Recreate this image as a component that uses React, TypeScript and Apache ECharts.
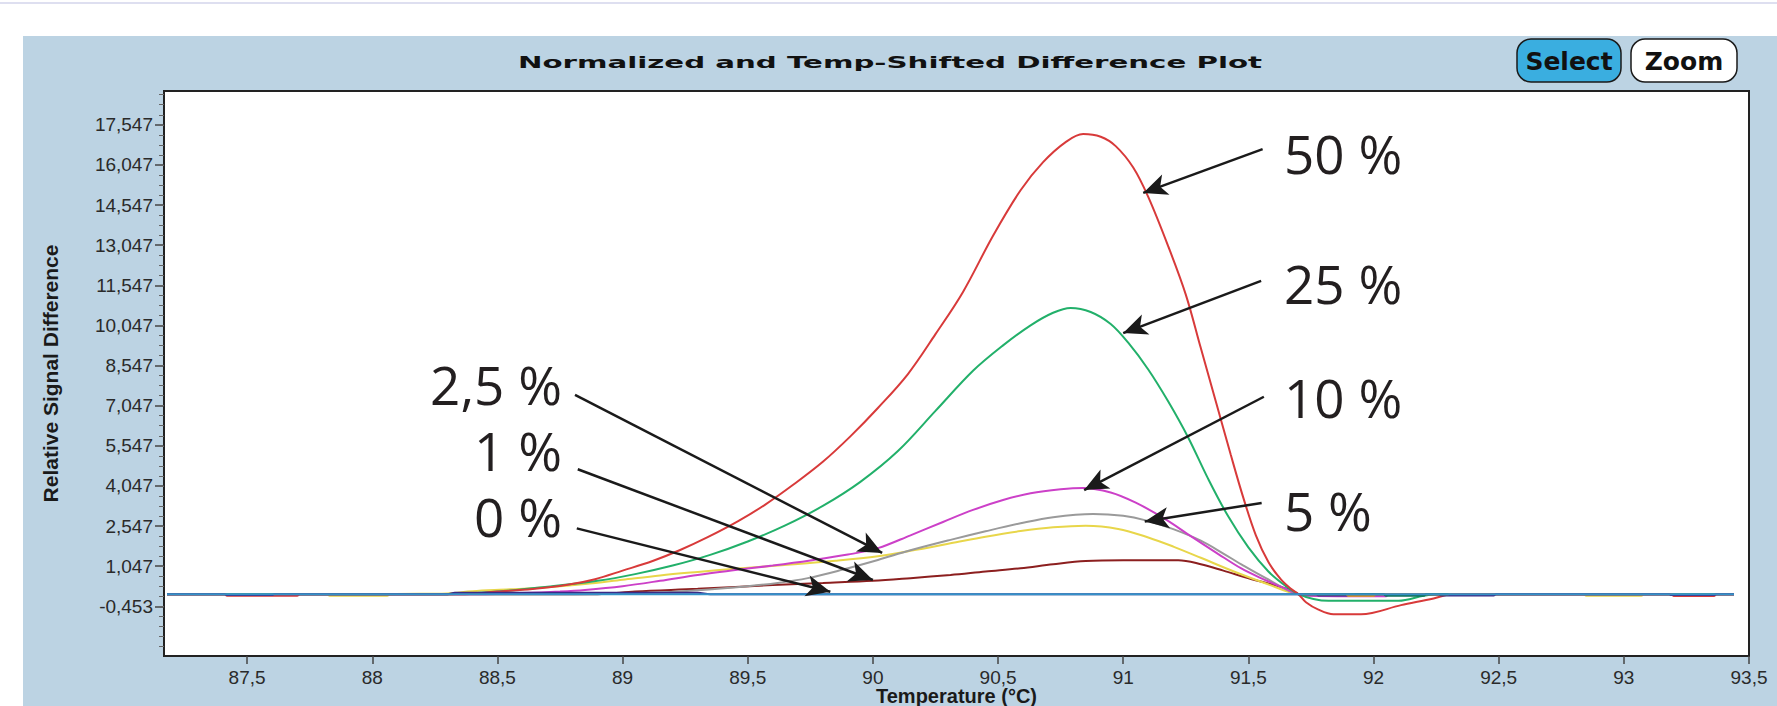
import React, { useEffect, useRef } from 'react';
import * as echarts from 'echarts';

// ---- axis ticks ----
const xTickValues = [87.5, 88, 88.5, 89, 89.5, 90, 90.5, 91, 91.5, 92, 92.5, 93, 93.5];
const yTickValues = [-0.453, 1.047, 2.547, 4.047, 5.547, 7.047, 8.547, 10.047, 11.547, 13.047, 14.547, 16.047, 17.547];

// ---- series: [temperature °C, relative signal difference] ----
const conc0: [number, number][] = [[87.18, 0], [93.44, 0]];
const conc1: [number, number][] = [
  [87.18, 0], [88.9, 0], [89.05, 0.1], [89.3, 0.2], [89.6, 0.34], [89.8, 0.42], [90.0, 0.5], [90.15, 0.6],
  [90.31, 0.72], [90.45, 0.85], [90.59, 0.97], [90.72, 1.12], [90.85, 1.24], [91.0, 1.27], [91.22, 1.27],
  [91.31, 1.12], [91.4, 0.88], [91.51, 0.57], [91.6, 0.35], [91.67, 0.14], [91.7, 0], [91.8, -0.03], [92.0, 0], [93.44, 0],
];
const conc2_5: [number, number][] = [
  [87.18, 0], [87.82, 0], [87.83, -0.06], [88.06, -0.06], [88.07, 0], [88.3, 0.03], [88.4, 0.11], [88.55, 0.18],
  [88.7, 0.26], [88.85, 0.38], [89.0, 0.54], [89.15, 0.7], [89.3, 0.83], [89.45, 0.95], [89.66, 1.1], [89.85, 1.25],
  [90.02, 1.42], [90.15, 1.62], [90.31, 1.9], [90.45, 2.15], [90.59, 2.36], [90.72, 2.5], [90.85, 2.56], [90.98, 2.44],
  [91.1, 2.12], [91.2, 1.78], [91.31, 1.36], [91.45, 0.82], [91.57, 0.4], [91.7, 0], [91.8, -0.04], [91.95, -0.04],
  [92.0, 0], [92.84, 0], [92.85, -0.06], [93.07, -0.06], [93.08, 0], [93.44, 0],
];
const conc5: [number, number][] = [
  [87.18, 0], [88.8, 0], [89.1, 0.05], [89.3, 0.15], [89.5, 0.3], [89.62, 0.42], [89.74, 0.6], [89.88, 0.92],
  [90.02, 1.28], [90.15, 1.64], [90.31, 2.03], [90.45, 2.35], [90.59, 2.65], [90.72, 2.88], [90.88, 3.0], [91.0, 2.93],
  [91.09, 2.76], [91.2, 2.43], [91.31, 2.0], [91.4, 1.52], [91.48, 1.07], [91.57, 0.6], [91.7, 0], [91.78, -0.05],
  [91.9, -0.05], [91.95, 0], [93.44, 0],
];
const conc10: [number, number][] = [
  [87.18, 0], [88.45, 0], [88.6, 0.04], [88.75, 0.1], [88.85, 0.16], [89.0, 0.3], [89.15, 0.5], [89.3, 0.72],
  [89.45, 0.9], [89.6, 1.07], [89.75, 1.26], [89.9, 1.48], [90.02, 1.72], [90.15, 2.2], [90.28, 2.7], [90.4, 3.15],
  [90.52, 3.52], [90.63, 3.77], [90.75, 3.92], [90.84, 3.97], [90.95, 3.8], [91.05, 3.42], [91.16, 2.85], [91.27, 2.17],
  [91.38, 1.5], [91.47, 0.97], [91.55, 0.6], [91.63, 0.28], [91.7, 0], [91.75, -0.06], [92.0, -0.08], [92.05, -0.08],
  [92.06, 0], [93.44, 0],
];
const conc25: [number, number][] = [
  [87.18, 0], [88.3, 0], [88.5, 0.1], [88.7, 0.28], [88.9, 0.5], [89.05, 0.75], [89.2, 1.07], [89.35, 1.47],
  [89.5, 1.97], [89.65, 2.57], [89.8, 3.3], [89.95, 4.2], [90.1, 5.35], [90.25, 6.85], [90.4, 8.35], [90.52, 9.3],
  [90.63, 10.05], [90.72, 10.52], [90.79, 10.7], [90.87, 10.55], [90.95, 10.1], [91.02, 9.4], [91.1, 8.4], [91.18, 7.2],
  [91.26, 5.85], [91.34, 4.3], [91.42, 2.9], [91.5, 1.75], [91.58, 0.85], [91.65, 0.3], [91.7, 0], [91.76, -0.18],
  [91.82, -0.25], [92.1, -0.25], [92.2, -0.06], [92.25, 0], [93.44, 0],
];
const conc50: [number, number][] = [
  [87.18, 0], [87.41, 0], [87.42, -0.06], [87.7, -0.06], [87.71, 0], [88.35, 0], [88.5, 0.1], [88.64, 0.19],
  [88.78, 0.35], [88.89, 0.56], [89.0, 0.88], [89.12, 1.24], [89.23, 1.65], [89.34, 2.13], [89.46, 2.72], [89.57, 3.35],
  [89.68, 4.08], [89.8, 4.95], [89.91, 5.9], [90.02, 6.96], [90.14, 8.23], [90.25, 9.72], [90.36, 11.3], [90.48, 13.4],
  [90.59, 15.1], [90.68, 16.15], [90.77, 16.9], [90.84, 17.2], [90.91, 17.1], [90.97, 16.75], [91.04, 15.95],
  [91.1, 14.85], [91.18, 13.0], [91.25, 11.2], [91.31, 9.2], [91.37, 7.2], [91.43, 5.2], [91.48, 3.6],
  [91.53, 2.2], [91.58, 1.2], [91.63, 0.55], [91.67, 0.2], [91.7, 0], [91.73, -0.3], [91.78, -0.58], [91.84, -0.75],
  [91.95, -0.75], [92.11, -0.41], [92.24, -0.16], [92.29, -0.03], [92.32, 0], [93.19, 0], [93.2, -0.07],
  [93.36, -0.07], [93.37, 0], [93.44, 0],
];
const traceNavy: [number, number][] = [
  [87.18, 0], [87.41, 0], [87.42, -0.03], [87.6, -0.03], [87.61, 0], [88.3, 0], [88.33, 0.05], [89.3, 0.05],
  [89.35, 0], [91.77, 0], [91.78, -0.05], [91.92, -0.05], [91.93, 0], [92.26, 0], [92.27, -0.05], [92.48, -0.05],
  [92.49, 0], [93.18, 0], [93.19, -0.03], [93.36, -0.03], [93.37, 0], [93.44, 0],
];
const traceOrange: [number, number][] = [[91.72, 0], [91.89, 0], [91.9, -0.07], [92.0, -0.07], [92.01, 0], [92.3, 0]];
const traceDarkGreen: [number, number][] = [[91.72, 0], [92.04, 0], [92.05, -0.06], [92.2, -0.06], [92.21, 0], [92.3, 0]];

// ---- annotations ----
const labels = ['0 %', '1 %', '2,5 %', '5 %', '10 %', '25 %', '50 %'];
const arrowFrom: [number, number][] = [
  [88.817, 2.46], [88.821, 4.67], [88.81, 7.45], [91.553, 3.41], [91.562, 7.38], [91.551, 11.71], [91.557, 16.64],
];
const arrowTo: [number, number][] = [
  [89.83, 0.09], [90.0, 0.53], [90.037, 1.54], [91.086, 2.72], [90.844, 3.89], [91.0, 9.76], [91.08, 15.0],
];

const lineSeries = (name: string, data: [number, number][], color: string, extra: any = {}) => ({
  type: 'line',
  name,
  data,
  showSymbol: false,
  symbol: 'none',
  smooth: 0.35,
  lineStyle: { color, width: 2 },
  itemStyle: { color },
  silent: true,
  ...extra,
});

export default function App() {
  const ref = useRef<HTMLDivElement>(null);
  useEffect(() => {
    if (!ref.current) return;
    const chart = echarts.init(ref.current, undefined, { renderer: 'svg' });

    const minor: number[] = [];
    const step = 1.5 / 4;
    for (let v = yTickValues[0] - 1.5; v < 18.8; v += step) {
      if (v > -2.31) minor.push(Math.round(v * 1000) / 1000);
    }

    const labelFont = { fontFamily: 'Open Sans', fontSize: 53, lineHeight: 46, fill: '#231f20' };
    const leftLabelPos = [
      { text: labels[2], y: 384 },
      { text: labels[1], y: 450 },
      { text: labels[0], y: 516 },
    ];
    const rightLabelPos = [
      { text: labels[6], y: 153 },
      { text: labels[5], y: 283 },
      { text: labels[4], y: 397 },
      { text: labels[3], y: 510 },
    ];

    const graphic: any[] = [
      { type: 'rect', z: -10, shape: { x: 0, y: 2, width: 1777, height: 2 }, style: { fill: '#dedff0' } },
      { type: 'rect', z: -10, shape: { x: 23, y: 36, width: 1754, height: 670 }, style: { fill: '#bcd3e3' } },
      {
        type: 'text', x: 890, y: 63, scaleX: 1.83, z: 5,
        style: {
          text: 'Normalized and Temp-Shifted Difference Plot', fontFamily: 'DejaVu Sans', fontWeight: 'bold',
          fontSize: 16, fill: '#111', textAlign: 'center', textVerticalAlign: 'middle', align: 'center', verticalAlign: 'middle',
        },
      },
      { type: 'rect', z: 5, shape: { x: 1517, y: 39, width: 104, height: 43, r: 14 }, style: { fill: '#3aaee0', stroke: '#1a1a1a', lineWidth: 1.5 } },
      {
        type: 'text', z: 6, x: 1569, y: 61,
        style: { text: 'Select', fontFamily: 'DejaVu Sans', fontWeight: 'bold', fontSize: 25, fill: '#111', textAlign: 'center', textVerticalAlign: 'middle', align: 'center', verticalAlign: 'middle' },
      },
      { type: 'rect', z: 5, shape: { x: 1631, y: 39, width: 106, height: 43, r: 14 }, style: { fill: '#ffffff', stroke: '#1a1a1a', lineWidth: 1.5 } },
      {
        type: 'text', z: 6, x: 1684, y: 61,
        style: { text: 'Zoom', fontFamily: 'DejaVu Sans', fontWeight: 'bold', fontSize: 25, fill: '#111', textAlign: 'center', textVerticalAlign: 'middle', align: 'center', verticalAlign: 'middle' },
      },
      ...leftLabelPos.map((l) => ({
        type: 'text', z: 20, x: 562, y: l.y,
        style: { ...labelFont, text: l.text, textAlign: 'right', textVerticalAlign: 'middle', align: 'right', verticalAlign: 'middle' },
      })),
      ...rightLabelPos.map((l) => ({
        type: 'text', z: 20, x: 1284, y: l.y,
        style: { ...labelFont, text: l.text, textAlign: 'left', textVerticalAlign: 'middle', align: 'left', verticalAlign: 'middle' },
      })),
    ];

    const arrows = arrowFrom.map((f, i) => [
      { coord: f, symbol: 'none' },
      { coord: arrowTo[i], symbol: 'arrow', symbolSize: [16, 24] },
    ]);

    const tickLabelStyle = { fontFamily: 'Liberation Sans', fontSize: 19, color: '#2a2a2a' };

    chart.setOption({
      animation: false,
      backgroundColor: '#ffffff',
      graphic,
      grid: {
        left: 164, top: 91, right: 28, bottom: 50,
        show: true, backgroundColor: '#ffffff', borderColor: '#222', borderWidth: 2,
        containLabel: false, outerBoundsMode: 'none',
      },
      xAxis: {
        type: 'value', min: 87.168, max: 93.5,
        name: 'Temperature (°C)', nameLocation: 'middle', nameGap: 30, nameMoveOverlap: false,
        nameTextStyle: { fontFamily: 'Liberation Sans', fontWeight: 'bold', fontSize: 20, lineHeight: 20, color: '#1a1a1a' },
        axisLine: { show: true, onZero: false, lineStyle: { color: '#222', width: 2 } },
        axisTick: { show: true, length: 8, customValues: xTickValues, lineStyle: { color: '#444', width: 1.5 } },
        axisLabel: {
          ...tickLabelStyle, margin: 12, customValues: xTickValues,
          formatter: (v: number) => String(v).replace('.', ','),
        },
        splitLine: { show: false },
      },
      yAxis: [
        {
          type: 'value', min: -2.311, max: 18.81, position: 'left',
          name: 'Relative Signal Difference', nameLocation: 'middle', nameGap: 103, nameMoveOverlap: false,
          nameTextStyle: { fontFamily: 'Liberation Sans', fontWeight: 'bold', fontSize: 21, color: '#1a1a1a' },
          axisLine: { show: true, onZero: false, lineStyle: { color: '#222', width: 2 } },
          axisTick: { show: true, length: 9, customValues: yTickValues, lineStyle: { color: '#444', width: 1.5 } },
          axisLabel: {
            ...tickLabelStyle, margin: 11, customValues: yTickValues,
            formatter: (v: number) => v.toFixed(3).replace('.', ','),
          },
          splitLine: { show: false },
        },
        {
          type: 'value', min: -2.311, max: 18.81, position: 'left', offset: 0,
          axisLine: { show: false },
          axisTick: { show: true, length: 5, customValues: minor, lineStyle: { color: '#666', width: 1 } },
          axisLabel: { show: false, customValues: minor },
          splitLine: { show: false },
        },
      ],
      series: [
        lineSeries('1 %', conc1, '#8c1f1f'),
        lineSeries('2,5 %', conc2_5, '#e8d64a'),
        lineSeries('5 %', conc5, '#9a9a9a'),
        lineSeries('10 %', conc10, '#cc40c8'),
        lineSeries('25 %', conc25, '#22b06a'),
        lineSeries('50 %', conc50, '#d83a3a'),
        lineSeries('trace', traceNavy, '#3b2a86'),
        lineSeries('trace2', traceOrange, '#d98c3a'),
        lineSeries('trace3', traceDarkGreen, '#0e6f5a'),
        lineSeries('0 %', conc0, '#3592c8', {
          smooth: false,
          markLine: {
            silent: true,
            symbol: ['none', 'arrow'],
            symbolSize: [1, 20],
            label: { show: false },
            emphasis: { disabled: true },
            lineStyle: { color: '#1a1a1a', width: 2.5, type: 'solid' },
            data: arrows,
          },
        }),
      ],
    });
    return () => chart.dispose();
  }, []);
  return <div ref={ref} style={{ position: 'absolute', left: 0, top: 0, width: 1777, height: 706 }} />;
}
